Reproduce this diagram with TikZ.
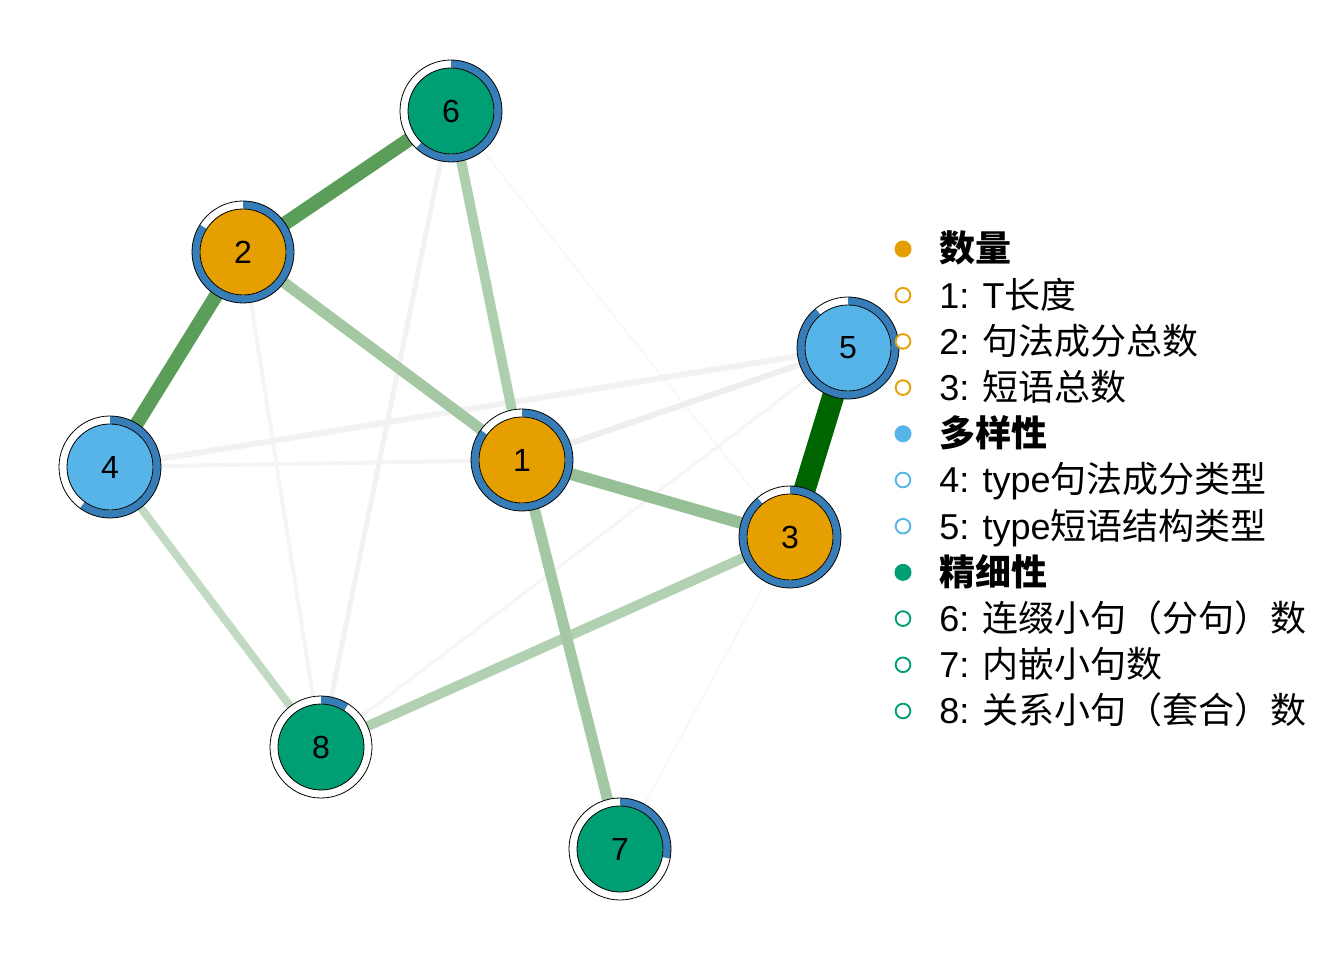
\documentclass[tikz,border=0pt]{standalone}
\usepackage{fontspec}
\setmainfont{Liberation Sans}
\newfontfamily\cjk{Noto Sans CJK SC}
\usetikzlibrary{backgrounds}

\definecolor{qorange}{HTML}{E69F00}
\definecolor{qblue}{HTML}{56B4E9}
\definecolor{qgreen}{HTML}{009E73}
\definecolor{ringblue}{HTML}{377EB8}
\definecolor{eDark}{HTML}{006400}
\definecolor{eMid}{HTML}{5A9E5A}
\definecolor{eA}{HTML}{96BF96}
\definecolor{eB}{HTML}{A3C8A3}
\definecolor{eC}{HTML}{ADCFAD}
\definecolor{eD}{HTML}{B2D1B2}
\definecolor{eE}{HTML}{C2DAC2}
\definecolor{gA}{HTML}{EEEEEE}
\definecolor{gB}{HTML}{F2F2F2}
\definecolor{gC}{HTML}{F5F5F5}
\definecolor{gD}{HTML}{F8F8F8}

\begin{document}
\begin{tikzpicture}[
    x=0.75pt, y=0.75pt,
    outer/.style={circle, fill=white, minimum size=76.5pt, inner sep=0pt},
    inner/.style={circle, draw, line width=0.6pt, minimum size=64.5pt, inner sep=0pt, font=\fontsize{24}{24}\selectfont},
    solid dot/.style={circle, fill=#1, minimum size=12.75pt, inner sep=0pt},
    hollow dot/.style={circle, draw=#1, fill=white, line width=1.4pt, minimum size=11pt, inner sep=0pt},
    item/.style={anchor=base west, inner sep=0pt, font=\fontsize{27}{27}\selectfont}
]
    \useasboundingbox (0,0) rectangle (1344,960);

    % Nodes
    \foreach \n/\x/\y/\c/\f in {1/522/500/qorange/0.85, 2/243/708/qorange/0.84, 3/790/423/qorange/0.89,
        4/110/493/qblue/0.6, 5/848/612/qblue/0.89, 6/451/849/qgreen/0.62, 7/620/111/qgreen/0.28, 8/321/213/qgreen/0.09} {
        \node[outer] (n\n) at (\x,\y) {};
        \fill[ringblue] ([shift={(90:38.25pt)}]n\n.center) arc[start angle=90, delta angle={-360*\f}, radius=38.25pt]
            -- ([shift={({90-360*\f}:32.5pt)}]n\n.center) arc[start angle={90-360*\f}, delta angle={360*\f}, radius=32.5pt] -- cycle;
        \draw[line width=0.6pt] (n\n.center) circle[radius=38.25pt];
        \node[inner, fill=\c] (m\n) at (n\n.center) {\n};
    }

    % Edges
    \begin{scope}[on background layer]
        \foreach \a/\b/\w/\c in {6/3/1.5/gD, 3/7/1.5/gD, 5/8/2.25/gC, 2/8/3/gC, 4/1/3/gC, 6/8/3.75/gB,
            4/5/4.5/gB, 1/5/4.5/gA, 4/8/6/eE, 3/8/7.5/eD, 1/6/7.5/eC, 1/7/8.25/eB, 2/1/8.25/eB,
            1/3/9/eA, 2/6/10.5/eMid, 2/4/10.5/eMid, 5/3/16.5/eDark}
            \draw[line width=\w pt, \c] (n\a.center) -- (n\b.center);
    \end{scope}

    % Legend
    \foreach \i/\c/\t in {0/qorange/数量, 4/qblue/多样性, 7/qgreen/精细性} {
        \node[solid dot=\c] (k\i) at (903,{711-46.2*\i}) {};
        \node[item] (t\i) at (939,{698-46.2*\i}) {\cjk\bfseries \t};
    }
    \foreach \i/\c/\t in {1/qorange/{1: T{\cjk 长度}}, 2/qorange/{2: {\cjk 句法成分总数}}, 3/qorange/{3: {\cjk 短语总数}},
        5/qblue/{4: type{\cjk 句法成分类型}}, 6/qblue/{5: type{\cjk 短语结构类型}},
        8/qgreen/{6: {\cjk 连缀小句（分句）数}}, 9/qgreen/{7: {\cjk 内嵌小句数}}, 10/qgreen/{8: {\cjk 关系小句（套合）数}}} {
        \node[hollow dot=\c] (k\i) at (903,{711-46.2*\i}) {};
        \node[item] (t\i) at (939,{698-46.2*\i}) {\t};
    }
\end{tikzpicture}
\end{document}
